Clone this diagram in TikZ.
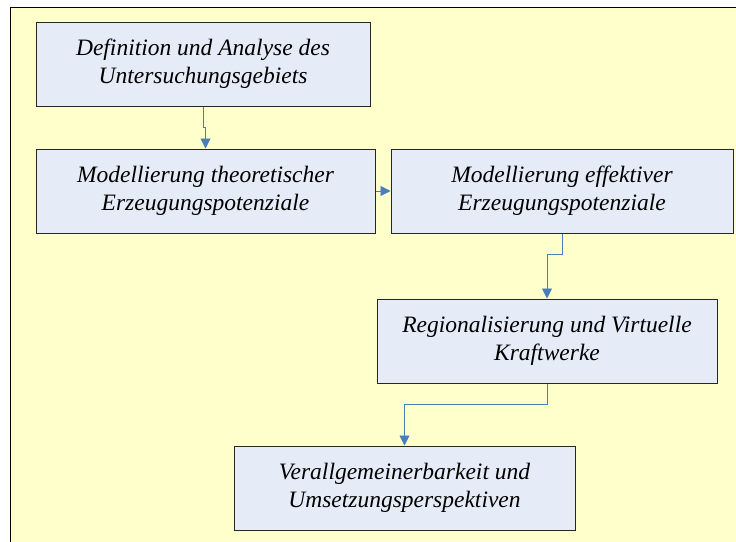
\documentclass[tikz,border=0pt]{standalone}
\usepackage{fontspec}
\setmainfont{Liberation Serif}
\usetikzlibrary{arrows.meta}

\definecolor{bgyellow}{HTML}{FFFFCC}
\definecolor{boxfill}{HTML}{E6ECF7}
\definecolor{arrowblue}{HTML}{4A7EBB}

\tikzset{
  stepbox/.style={draw=black!85,fill=boxfill,line width=1pt,
    minimum height=84pt,align=center,inner sep=0pt,
    font=\itshape\fontsize{23.5}{28}\selectfont},
  conn/.style={draw=arrowblue,line width=0.9pt,
    -{Triangle[length=10pt,width=10pt]}}
}

\begin{document}
\begin{tikzpicture}[x=1pt,y=-1pt]

        \clip (0,0) rectangle (736,541);
        \fill[bgyellow] (10,7) rectangle (760,560);
        \draw[black,line width=1pt] (10,560) -- (10,7) -- (760,7);

        \begin{scope}[every node/.style={stepbox}]
          \node[minimum width=334pt] (def) at (203,64)
            {Definition und Analyse des\\Untersuchungsgebiets};
          \node[minimum width=339pt] (theo) at (205.5,191)
            {Modellierung theoretischer\\Erzeugungspotenziale};
          \node[minimum width=342pt] (eff) at (562,191)
            {Modellierung effektiver\\Erzeugungspotenziale};
          \node[minimum width=340pt] (reg) at (547,341)
            {Regionalisierung und Virtuelle\\Kraftwerke};
          \node[minimum width=341pt] (ver) at (404.5,488)
            {Verallgemeinerbarkeit und\\Umsetzungsperspektiven};
        \end{scope}

        \draw[conn] (def.south) -- ++(0,21) -| (theo.north);
        \draw[conn] (theo.east) -- (eff.west);
        \draw[conn] (eff.south) -- ++(0,21) -| (reg.north);
        \draw[conn] (reg.south) -- ++(0,21) -| (ver.north);

      \end{tikzpicture}
\end{document}
